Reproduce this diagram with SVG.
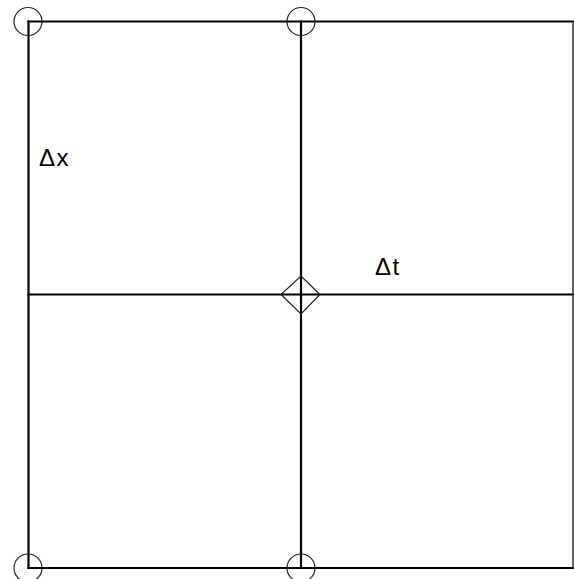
<svg xmlns="http://www.w3.org/2000/svg" width="574" height="579" viewBox="0 0 574 579">
<style>
.ln{stroke:#000;stroke-width:2.2;fill:none;stroke-linecap:square}
.mk{stroke:#222;stroke-width:1.2;fill:none}
.lb{font-family:"Liberation Sans",Arial,sans-serif;font-size:24px;fill:#000;letter-spacing:1.5px}
</style>
<rect width="574" height="579" fill="#fff"/>
<g id="connectors">
<line class="ln" x1="28.5" y1="21.5" x2="573" y2="21.5"/>
<line class="ln" x1="28.5" y1="568" x2="573" y2="568"/>
<line class="ln" x1="28.5" y1="21.5" x2="28.5" y2="568"/>
<line class="ln" x1="301" y1="21.5" x2="301" y2="568"/>
<line class="ln" x1="28.5" y1="294.5" x2="573" y2="294.5"/>
<line x1="573" y1="21.5" x2="573" y2="568" stroke="#333" stroke-width="1.5"/>
</g>
<g id="n-tl"><circle class="mk" cx="28" cy="21.5" r="14"/></g>
<g id="n-tm"><circle class="mk" cx="301" cy="21.5" r="14"/></g>
<g id="n-bl"><circle class="mk" cx="28" cy="568" r="14"/></g>
<g id="n-bm"><circle class="mk" cx="301" cy="568" r="14"/></g>
<g id="n-center"><polygon class="mk" points="301,276 320,294.5 301,314 281,294.5"/></g>
<g id="label-dx"><text class="lb" x="39" y="166">Δx</text></g>
<g id="label-dt"><text class="lb" x="375" y="275">Δt</text></g>
</svg>
